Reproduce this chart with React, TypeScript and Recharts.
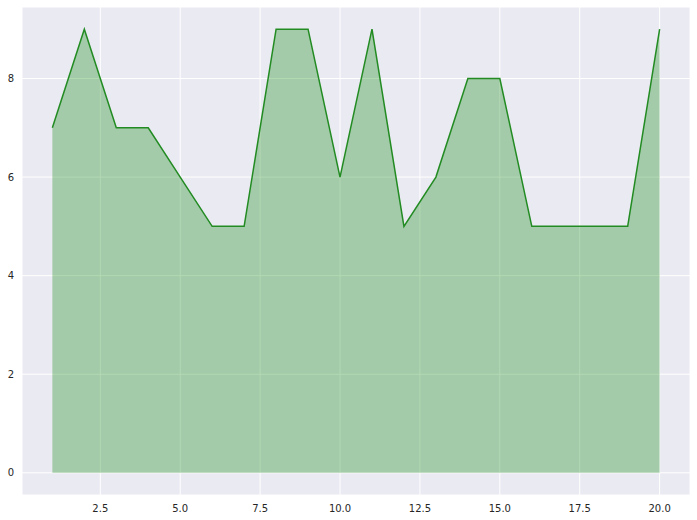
import { Area, CartesianGrid, ComposedChart, XAxis, YAxis } from "recharts";

const xs = [1, 2, 3, 4, 5, 6, 7, 8, 9, 10, 11, 12, 13, 14, 15, 16, 17, 18, 19, 20];
const ys = [7, 9, 7, 7, 6, 5, 5, 9, 9, 6, 9, 5, 6, 8, 8, 5, 5, 5, 5, 9];
const xTicks = [2.5, 5, 7.5, 10, 12.5, 15, 17.5, 20];
const yTicks = [0, 2, 4, 6, 8];

const data = xs.map((x, i) => ({ x, y: ys[i] }));

const tickStyle = { fontSize: 10, fill: "#262626", fontFamily: "DejaVu Sans" };

export default function App() {
  return (
    <div style={{ position: "absolute", left: 0, top: 0, width: 697, height: 520, background: "#fff" }}>
      <ComposedChart width={697} height={520} data={data} margin={{ top: 7, right: 7, bottom: 0, left: 0 }}>
        <CartesianGrid fill="#EAEAF2" stroke="#fff" strokeWidth={1} />
        <XAxis
          dataKey="x"
          type="number"
          domain={[0.05, 20.95]}
          ticks={xTicks}
          tickFormatter={(v: number) => v.toFixed(1)}
          axisLine={false}
          tickLine={false}
          tickMargin={4}
          height={25}
          tick={tickStyle}
          allowDataOverflow
        />
        <YAxis
          type="number"
          domain={[-0.45, 9.45]}
          ticks={yTicks}
          axisLine={false}
          tickLine={false}
          width={22}
          tick={tickStyle}
          allowDataOverflow
        />
        <Area
          type="linear"
          dataKey="y"
          baseValue={0}
          stroke="#228B22"
          strokeWidth={1.5}
          fill="#008000"
          fillOpacity={0.3}
          isAnimationActive={false}
          dot={false}
          activeDot={false}
        />
      </ComposedChart>
    </div>
  );
}
